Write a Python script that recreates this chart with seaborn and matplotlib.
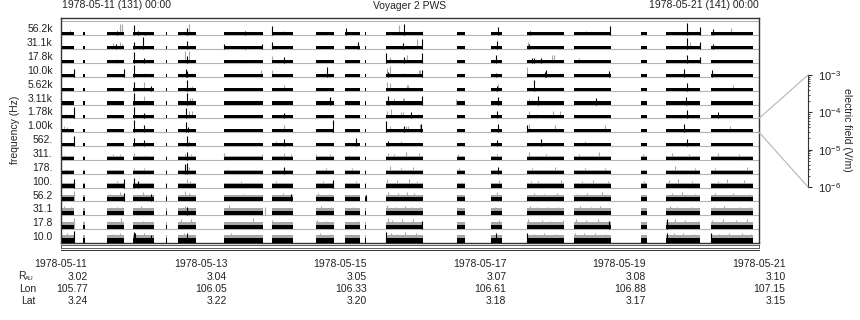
import matplotlib
matplotlib.use('Agg')
import matplotlib.pyplot as plt
from matplotlib.patches import ConnectionPatch
import seaborn as sns

sns.set_style('white')
plt.rcParams['font.family'] = ['Liberation Sans', 'DejaVu Sans']
plt.rcParams['mathtext.default'] = 'regular'
plt.rcParams['text.color'] = '#222222'
plt.rcParams['ytick.color'] = '#222222'

## frequency channels, bottom to top
freq_labels = ['10.0', '17.8', '31.1', '56.2', '100.', '178.', '311.', '562.',
               '1.00k', '1.78k', '3.11k', '5.62k', '10.0k', '17.8k', '31.1k', '56.2k']

## data coverage, hours after 1978-05-11 00:00
seg_start = [0.3, 7.6, 15.8, 24.8, 36.0, 40.2, 56.1, 72.6, 87.7, 97.7, 104.5,
             111.8, 136.2, 147.9, 160.2, 176.4, 199.4, 208.0, 223.5]
seg_end = [4.5, 8.3, 21.7, 32.0, 36.6, 46.4, 69.5, 79.8, 93.9, 102.8, 105.0,
           124.5, 138.9, 151.7, 173.0, 189.1, 201.5, 219.7, 238.0]

## background level in each channel (fraction of 1e-6..1e-3 V/m, log)
black_level = [0.38, 0.33, 0.30, 0.30, 0.25, 0.22, 0.22, 0.22,
               0.22, 0.22, 0.22, 0.22, 0.22, 0.22, 0.22, 0.22]
gray_level = [0.56, 0.52, 0.50, 0.46, 0.36, 0.30, 0.28, 0.22,
              0.22, 0.22, 0.22, 0.22, 0.22, 0.22, 0.22, 0.22]

## bursts: (channel, hour, level, shade)
spikes = [
    ('56.2k', 3.1, .35, 'g'), ('56.2k', 19.3, .3, 'k'), ('56.2k', 20.3, .8, 'g'), ('56.2k', 21.0, .8, 'g'),
    ('56.2k', 25.1, .75, 'k'), ('56.2k', 26.5, .3, 'k'), ('56.2k', 28.9, .25, 'k'), ('56.2k', 43.3, .55, 'k'),
    ('56.2k', 44.0, .85, 'g'), ('56.2k', 63.3, .3, 'k'), ('56.2k', 72.6, .7, 'k'), ('56.2k', 76.7, .3, 'g'),
    ('56.2k', 98.0, .5, 'k'), ('56.2k', 116.2, .75, 'g'), ('56.2k', 117.9, .8, 'k'), ('56.2k', 124.1, .3, 'g'),
    ('56.2k', 150.3, .6, 'k'), ('56.2k', 161.3, .3, 'k'), ('56.2k', 180.5, .3, 'g'), ('56.2k', 188.8, .7, 'k'),
    ('56.2k', 215.3, .9, 'k'), ('56.2k', 219.7, .6, 'k'), ('56.2k', 224.2, .45, 'k'), ('56.2k', 230.4, .5, 'g'),
    ('31.1k', 17.9, .45, 'g'), ('31.1k', 18.9, .4, 'k'), ('31.1k', 20.3, .5, 'g'), ('31.1k', 21.0, .4, 'g'),
    ('31.1k', 25.1, .55, 'k'), ('31.1k', 28.2, .85, 'k'), ('31.1k', 43.3, .6, 'k'), ('31.1k', 56.1, .35, 'k'),
    ('31.1k', 63.3, .25, 'k'), ('31.1k', 69.1, .4, 'k'), ('31.1k', 72.6, .55, 'k'), ('31.1k', 102.1, .5, 'k'),
    ('31.1k', 117.6, .45, 'k'), ('31.1k', 122.4, .75, 'g'), ('31.1k', 124.1, .75, 'k'), ('31.1k', 149.9, .6, 'k'),
    ('31.1k', 160.6, .5, 'g'), ('31.1k', 160.9, .35, 'k'), ('31.1k', 215.3, .8, 'k'), ('31.1k', 216.3, .5, 'g'),
    ('31.1k', 219.7, .5, 'k'), ('31.1k', 224.2, .4, 'k'),
    ('17.8k', 19.3, .3, 'g'), ('17.8k', 25.1, .8, 'k'), ('17.8k', 28.5, .35, 'k'), ('17.8k', 42.6, .85, 'g'),
    ('17.8k', 43.3, .5, 'k'), ('17.8k', 44.0, .85, 'g'), ('17.8k', 63.3, .2, 'g'), ('17.8k', 72.6, .5, 'g'),
    ('17.8k', 76.7, .4, 'k'), ('17.8k', 111.8, .75, 'k'), ('17.8k', 113.1, .45, 'g'), ('17.8k', 117.9, .4, 'k'),
    ('17.8k', 119.0, .55, 'g'), ('17.8k', 124.1, .7, 'k'), ('17.8k', 149.6, .55, 'k'), ('17.8k', 162.0, .35, 'k'),
    ('17.8k', 162.7, .35, 'k'), ('17.8k', 165.1, .35, 'k'), ('17.8k', 168.8, .6, 'g'), ('17.8k', 169.5, .55, 'g'),
    ('17.8k', 178.0, .35, 'g'), ('17.8k', 215.3, .6, 'k'), ('17.8k', 219.7, .4, 'k'),
    ('10.0k', 4.5, .6, 'k'), ('10.0k', 21.7, .55, 'k'), ('10.0k', 25.1, .85, 'k'), ('10.0k', 28.9, .3, 'g'),
    ('10.0k', 43.0, .6, 'k'), ('10.0k', 43.3, .45, 'k'), ('10.0k', 45.0, .3, 'g'), ('10.0k', 68.8, .5, 'g'),
    ('10.0k', 72.6, .5, 'g'), ('10.0k', 91.5, .7, 'k'), ('10.0k', 112.1, .65, 'g'), ('10.0k', 112.4, .35, 'k'),
    ('10.0k', 113.1, .75, 'g'), ('10.0k', 117.9, .3, 'g'), ('10.0k', 123.1, .5, 'g'), ('10.0k', 123.5, .5, 'g'),
    ('10.0k', 124.1, .5, 'k'), ('10.0k', 149.6, .3, 'k'), ('10.0k', 160.2, .7, 'g'), ('10.0k', 166.4, .35, 'k'),
    ('10.0k', 166.8, .5, 'k'), ('10.0k', 171.6, .3, 'g'), ('10.0k', 188.5, .4, 'k'), ('10.0k', 214.3, .55, 'k'),
    ('10.0k', 224.0, .5, 'k'),
    ('5.62k', 25.1, .6, 'k'), ('5.62k', 28.5, .65, 'g'), ('5.62k', 30.9, .35, 'k'), ('5.62k', 43.3, .75, 'k'),
    ('5.62k', 44.4, .3, 'g'), ('5.62k', 45.0, .35, 'g'), ('5.62k', 76.7, .4, 'g'), ('5.62k', 112.1, .65, 'g'),
    ('5.62k', 113.1, .55, 'g'), ('5.62k', 119.0, .4, 'g'), ('5.62k', 119.3, .4, 'g'), ('5.62k', 149.9, .35, 'k'),
    ('5.62k', 150.3, .5, 'g'), ('5.62k', 162.7, .8, 'k'), ('5.62k', 171.9, .3, 'g'), ('5.62k', 215.3, .55, 'k'),
    ('5.62k', 231.0, .4, 'g'),
    ('3.11k', 25.1, .85, 'k'), ('3.11k', 28.5, .65, 'g'), ('3.11k', 43.3, .85, 'k'), ('3.11k', 44.3, .45, 'g'),
    ('3.11k', 45.0, .45, 'g'), ('3.11k', 92.5, .55, 'k'), ('3.11k', 112.4, .65, 'k'), ('3.11k', 114.5, .5, 'g'),
    ('3.11k', 117.6, .45, 'g'), ('3.11k', 117.9, .45, 'g'), ('3.11k', 124.1, .6, 'k'), ('3.11k', 135.8, .4, 'g'),
    ('3.11k', 150.3, .55, 'k'), ('3.11k', 160.9, .4, 'g'), ('3.11k', 162.0, .35, 'g'), ('3.11k', 164.0, .6, 'k'),
    ('3.11k', 184.0, .45, 'k'), ('3.11k', 215.0, .55, 'k'),
    ('1.78k', 1.7, .35, 'g'), ('1.78k', 3.1, .35, 'g'), ('1.78k', 4.5, .85, 'k'), ('1.78k', 25.1, .8, 'k'),
    ('1.78k', 28.5, .4, 'k'), ('1.78k', 43.0, .75, 'k'), ('1.78k', 44.0, .5, 'g'), ('1.78k', 45.0, .5, 'g'),
    ('1.78k', 76.7, .4, 'k'), ('1.78k', 112.1, .55, 'g'), ('1.78k', 113.5, .65, 'g'), ('1.78k', 116.9, .45, 'g'),
    ('1.78k', 117.6, .45, 'g'), ('1.78k', 120.4, .45, 'k'), ('1.78k', 122.8, .3, 'g'), ('1.78k', 136.2, .35, 'g'),
    ('1.78k', 149.9, .5, 'k'), ('1.78k', 160.9, .5, 'g'), ('1.78k', 163.7, .35, 'g'), ('1.78k', 169.2, .55, 'g'),
    ('1.78k', 171.6, .5, 'g'), ('1.78k', 215.3, .6, 'k'), ('1.78k', 226.0, .45, 'k'),
    ('1.00k', 1.0, .45, 'g'), ('1.00k', 2.0, .35, 'g'), ('1.00k', 25.1, .9, 'k'), ('1.00k', 28.5, .55, 'k'),
    ('1.00k', 43.0, .75, 'k'), ('1.00k', 43.6, .4, 'k'), ('1.00k', 76.7, .55, 'g'), ('1.00k', 93.5, .85, 'k'),
    ('1.00k', 111.8, .8, 'k'), ('1.00k', 113.1, .45, 'g'), ('1.00k', 117.9, .45, 'k'), ('1.00k', 118.6, .45, 'g'),
    ('1.00k', 119.3, .45, 'g'), ('1.00k', 123.5, .6, 'g'), ('1.00k', 123.8, .6, 'k'), ('1.00k', 150.3, .6, 'k'),
    ('1.00k', 160.2, .55, 'k'), ('1.00k', 160.9, .6, 'g'), ('1.00k', 169.9, .55, 'g'), ('1.00k', 187.0, .5, 'g'),
    ('1.00k', 214.3, .6, 'k'), ('1.00k', 230.0, .45, 'g'),
    ('562.', 3.1, .25, 'g'), ('562.', 4.5, .7, 'k'), ('562.', 25.1, .55, 'k'), ('562.', 28.5, .45, 'k'),
    ('562.', 43.3, .7, 'k'), ('562.', 44.0, .35, 'g'), ('562.', 73.9, .35, 'g'), ('562.', 76.7, .5, 'k'),
    ('562.', 101.4, .6, 'k'), ('562.', 112.4, .4, 'k'), ('562.', 117.0, .4, 'g'), ('562.', 150.0, .45, 'k'),
    ('562.', 165.0, .5, 'k'), ('562.', 180.0, .4, 'g'), ('562.', 215.3, .5, 'k'),
    ('311.', 1.0, .35, 'g'), ('311.', 17.9, .4, 'g'), ('311.', 20.3, .45, 'g'), ('311.', 25.1, .5, 'g'),
    ('311.', 28.9, .35, 'g'), ('311.', 42.6, .45, 'g'), ('311.', 43.3, .6, 'k'), ('311.', 44.6, .4, 'g'),
    ('311.', 56.1, .5, 'g'), ('311.', 69.0, .4, 'g'), ('311.', 76.7, .5, 'g'), ('311.', 79.0, .4, 'g'),
    ('311.', 87.7, .4, 'g'), ('311.', 92.5, .45, 'g'), ('311.', 99.0, .35, 'g'), ('311.', 112.4, .5, 'g'),
    ('311.', 114.5, .45, 'g'), ('311.', 118.6, .55, 'g'), ('311.', 123.1, .5, 'g'), ('311.', 136.5, .4, 'g'),
    ('311.', 150.0, .45, 'g'), ('311.', 161.0, .55, 'g'), ('311.', 166.8, .4, 'g'), ('311.', 178.0, .4, 'g'),
    ('311.', 185.0, .55, 'g'), ('311.', 200.0, .4, 'g'), ('311.', 210.0, .5, 'g'), ('311.', 216.0, .4, 'g'),
    ('311.', 226.0, .5, 'g'), ('311.', 233.0, .45, 'g'),
    ('178.', 1.7, .35, 'g'), ('178.', 25.0, .45, 'g'), ('178.', 28.5, .4, 'g'), ('178.', 42.6, .7, 'k'),
    ('178.', 43.3, .75, 'k'), ('178.', 44.0, .5, 'g'), ('178.', 57.0, .35, 'g'), ('178.', 76.7, .5, 'k'),
    ('178.', 91.0, .4, 'g'), ('178.', 100.0, .4, 'g'), ('178.', 113.0, .55, 'g'), ('178.', 117.0, .45, 'g'),
    ('178.', 121.0, .5, 'g'), ('178.', 137.0, .4, 'g'), ('178.', 150.3, .5, 'k'), ('178.', 162.0, .45, 'g'),
    ('178.', 170.0, .5, 'g'), ('178.', 180.0, .4, 'g'), ('178.', 187.0, .45, 'g'), ('178.', 211.0, .55, 'g'),
    ('178.', 218.0, .4, 'g'), ('178.', 225.0, .45, 'g'), ('178.', 236.0, .5, 'g'),
    ('100.', 4.5, .65, 'k'), ('100.', 19.3, .45, 'g'), ('100.', 21.7, .6, 'k'), ('100.', 25.1, .7, 'k'),
    ('100.', 26.5, .45, 'k'), ('100.', 43.3, .6, 'g'), ('100.', 44.3, .5, 'g'), ('100.', 62.0, .45, 'g'),
    ('100.', 73.9, .45, 'g'), ('100.', 90.0, .5, 'g'), ('100.', 93.5, .55, 'k'), ('100.', 101.5, .45, 'g'),
    ('100.', 112.0, .6, 'g'), ('100.', 115.5, .55, 'g'), ('100.', 119.5, .6, 'g'), ('100.', 122.5, .45, 'g'),
    ('100.', 137.5, .4, 'g'), ('100.', 150.6, .55, 'g'), ('100.', 161.5, .5, 'g'), ('100.', 164.0, .45, 'g'),
    ('100.', 172.0, .55, 'g'), ('100.', 179.0, .5, 'g'), ('100.', 183.0, .55, 'g'), ('100.', 188.0, .5, 'g'),
    ('100.', 200.5, .45, 'g'), ('100.', 209.0, .55, 'g'), ('100.', 212.0, .6, 'g'), ('100.', 217.0, .45, 'g'),
    ('100.', 226.0, .5, 'g'), ('100.', 229.0, .6, 'g'), ('100.', 235.0, .55, 'g'),
    ('56.2', 4.5, .75, 'g'), ('56.2', 17.0, .55, 'g'), ('56.2', 20.3, .65, 'g'), ('56.2', 21.7, .6, 'k'),
    ('56.2', 28.2, .7, 'g'), ('56.2', 31.0, .55, 'k'), ('56.2', 42.6, .75, 'g'), ('56.2', 44.0, .6, 'g'),
    ('56.2', 63.0, .55, 'g'), ('56.2', 76.5, .6, 'g'), ('56.2', 79.2, .55, 'k'), ('56.2', 88.5, .6, 'g'),
    ('56.2', 92.0, .55, 'g'), ('56.2', 99.5, .5, 'g'), ('56.2', 104.7, .45, 'k'), ('56.2', 112.6, .65, 'g'),
    ('56.2', 116.0, .6, 'g'), ('56.2', 118.9, .7, 'g'), ('56.2', 121.5, .6, 'g'), ('56.2', 137.0, .5, 'g'),
    ('56.2', 150.0, .65, 'g'), ('56.2', 162.5, .6, 'g'), ('56.2', 166.0, .55, 'g'), ('56.2', 170.5, .6, 'g'),
    ('56.2', 177.5, .55, 'g'), ('56.2', 181.0, .6, 'g'), ('56.2', 186.0, .65, 'g'), ('56.2', 200.0, .5, 'g'),
    ('56.2', 210.0, .6, 'g'), ('56.2', 213.5, .65, 'g'), ('56.2', 218.0, .55, 'g'), ('56.2', 225.0, .6, 'g'),
    ('56.2', 231.0, .6, 'g'), ('56.2', 236.5, .55, 'g'),
    ('31.1', 1.2, .65, 'g'), ('31.1', 3.6, .6, 'g'), ('31.1', 19.3, .6, 'g'), ('31.1', 27.4, .65, 'g'),
    ('31.1', 42.6, .7, 'g'), ('31.1', 43.3, .6, 'k'), ('31.1', 57.9, .75, 'g'), ('31.1', 70.3, .6, 'g'),
    ('31.1', 89.5, .65, 'g'), ('31.1', 93.0, .6, 'g'), ('31.1', 98.5, .55, 'g'), ('31.1', 100.5, .6, 'g'),
    ('31.1', 112.2, .75, 'g'), ('31.1', 114.8, .6, 'g'), ('31.1', 118.2, .65, 'g'), ('31.1', 120.6, .6, 'g'),
    ('31.1', 123.6, .6, 'g'), ('31.1', 137.8, .55, 'g'), ('31.1', 149.2, .6, 'g'), ('31.1', 161.4, .65, 'g'),
    ('31.1', 163.5, .6, 'g'), ('31.1', 167.5, .6, 'g'), ('31.1', 171.0, .6, 'g'), ('31.1', 178.5, .65, 'g'),
    ('31.1', 182.4, .6, 'g'), ('31.1', 185.5, .7, 'g'), ('31.1', 199.9, .55, 'g'), ('31.1', 209.5, .65, 'g'),
    ('31.1', 211.8, .6, 'g'), ('31.1', 216.8, .6, 'g'), ('31.1', 224.5, .6, 'g'), ('31.1', 228.0, .65, 'g'),
    ('31.1', 233.5, .6, 'g'), ('31.1', 237.0, .6, 'g'),
    ('17.8', 4.5, .8, 'g'), ('17.8', 16.5, .6, 'g'), ('17.8', 20.7, .8, 'g'), ('17.8', 28.2, .6, 'g'),
    ('17.8', 41.3, .7, 'g'), ('17.8', 44.6, .75, 'g'), ('17.8', 66.0, .8, 'g'), ('17.8', 72.6, .65, 'g'),
    ('17.8', 88.0, .65, 'g'), ('17.8', 91.0, .6, 'g'), ('17.8', 98.0, .55, 'g'), ('17.8', 102.0, .6, 'g'),
    ('17.8', 112.4, .8, 'g'), ('17.8', 113.8, .65, 'g'), ('17.8', 117.2, .75, 'g'), ('17.8', 121.0, .7, 'g'),
    ('17.8', 124.0, .6, 'k'), ('17.8', 136.8, .55, 'g'), ('17.8', 150.5, .65, 'g'), ('17.8', 160.5, .75, 'g'),
    ('17.8', 165.5, .65, 'g'), ('17.8', 168.0, .6, 'g'), ('17.8', 172.5, .65, 'g'), ('17.8', 177.0, .7, 'g'),
    ('17.8', 180.5, .65, 'g'), ('17.8', 184.5, .75, 'g'), ('17.8', 188.5, .6, 'k'), ('17.8', 200.8, .55, 'g'),
    ('17.8', 208.5, .7, 'k'), ('17.8', 211.0, .7, 'g'), ('17.8', 214.5, .65, 'g'), ('17.8', 219.0, .6, 'g'),
    ('17.8', 223.8, .65, 'g'), ('17.8', 227.5, .75, 'g'), ('17.8', 232.0, .65, 'g'), ('17.8', 236.0, .7, 'g'),
    ('10.0', 2.0, .7, 'g'), ('10.0', 4.5, .85, 'k'), ('10.0', 17.9, .65, 'g'), ('10.0', 20.3, .7, 'g'),
    ('10.0', 25.1, .8, 'k'), ('10.0', 25.5, .7, 'k'), ('10.0', 28.5, .7, 'g'), ('10.0', 30.9, .6, 'k'),
    ('10.0', 42.3, .7, 'g'), ('10.0', 43.3, .7, 'k'), ('10.0', 58.6, .7, 'g'), ('10.0', 89.0, .7, 'g'),
    ('10.0', 92.8, .65, 'g'), ('10.0', 99.0, .6, 'g'), ('10.0', 101.8, .6, 'g'), ('10.0', 111.9, .8, 'k'),
    ('10.0', 113.3, .75, 'g'), ('10.0', 115.6, .65, 'g'), ('10.0', 118.4, .8, 'g'), ('10.0', 122.0, .7, 'g'),
    ('10.0', 136.4, .6, 'g'), ('10.0', 149.5, .7, 'k'), ('10.0', 160.4, .75, 'k'), ('10.0', 162.8, .65, 'g'),
    ('10.0', 166.2, .7, 'g'), ('10.0', 169.8, .65, 'g'), ('10.0', 176.6, .75, 'g'), ('10.0', 179.8, .7, 'g'),
    ('10.0', 183.6, .75, 'g'), ('10.0', 187.2, .65, 'g'), ('10.0', 199.6, .6, 'g'), ('10.0', 208.2, .7, 'k'),
    ('10.0', 210.8, .7, 'g'), ('10.0', 213.8, .75, 'g'), ('10.0', 217.6, .65, 'g'), ('10.0', 223.6, .7, 'k'),
    ('10.0', 226.2, .65, 'g'), ('10.0', 229.6, .7, 'g'), ('10.0', 234.2, .75, 'g'), ('10.0', 237.4, .65, 'g'),
]

## time axis and ephemeris
tick_hours = [0, 48, 96, 144, 192, 240]
tick_dates = ['1978-05-11', '1978-05-13', '1978-05-15', '1978-05-17', '1978-05-19', '1978-05-21']
r_au = ['3.02', '3.04', '3.05', '3.07', '3.08', '3.10']
lon = ['105.77', '106.05', '106.33', '106.61', '106.88', '107.15']
lat = ['3.24', '3.22', '3.20', '3.18', '3.17', '3.15']

field_ticks = [1e-6, 1e-5, 1e-4, 1e-3]
field_labels = ['$10^{-6}$', '$10^{-5}$', '$10^{-4}$', '$10^{-3}$']

GRAY = '#a6a6a6'
LINE = '#b4b4b4'
W, H = 860, 320
FS = 7.5


def box(x0, y0, x1, y1):
    return [x0 / W, 1 - y1 / H, (x1 - x0) / W, (y1 - y0) / H]


def fx(x):
    return x / W


def fy(y):
    return 1 - y / H


fig = plt.figure(figsize=(8.6, 3.2), dpi=100)

## main stack plot
ax = fig.add_axes(box(61, 18, 759, 243))
nrow = len(freq_labels)
ax.set_xlim(0, 240)
ax.set_ylim(0, nrow + 0.25)
ax.hlines(range(1, nrow + 1), 0, 240, color=LINE, lw=0.8, zorder=0)
segs = [(s, e - s) for s, e in zip(seg_start, seg_end)]
for k in range(nrow):
    if gray_level[k] > black_level[k]:
        ax.broken_barh(segs, (k, gray_level[k]), facecolors=GRAY, lw=0, zorder=1)
    ax.broken_barh(segs, (k, black_level[k]), facecolors='black', lw=0, zorder=3)

for shade in ['g', 'k']:
    xs = [h for c, h, v, s in spikes if s == shade]
    y0 = [freq_labels.index(c) for c, h, v, s in spikes if s == shade]
    y1 = [freq_labels.index(c) + v for c, h, v, s in spikes if s == shade]
    ax.vlines(xs, y0, y1, colors=GRAY if shade == 'g' else 'black',
              lw=0.8, zorder=2 if shade == 'g' else 4)

ax.set_xticks([])
ax.set_yticks(range(0, nrow + 1))
ax.set_yticklabels([])
ax.tick_params(axis='y', which='major', length=5.8, width=0.8, color='#333333', direction='out')
ax.set_yticks([k + 0.5 for k in range(nrow)], minor=True)
ax.set_yticklabels(freq_labels, minor=True, fontsize=FS)
ax.tick_params(axis='y', which='minor', length=0, pad=6)
for sp in ax.spines.values():
    sp.set_color('#333333')
    sp.set_linewidth(1.0)
ax.grid(False)

## coverage strip
ax_s = fig.add_axes(box(61, 244.6, 759, 247.6))
ax_s.set_xlim(0, 240)
ax_s.set_xticks([])
ax_s.set_yticks([])
for sp in ax_s.spines.values():
    sp.set_color('#444444')
    sp.set_linewidth(0.6)

## time axis
ax_t = fig.add_axes(box(61, 249.0, 759, 249.6))
ax_t.set_xlim(0, 240)
ax_t.set_yticks([])
ax_t.patch.set_alpha(0)
sns.despine(ax=ax_t, left=True, top=True, right=True, bottom=False)
ax_t.spines['bottom'].set_color('#333333')
ax_t.spines['bottom'].set_linewidth(0.7)
ax_t.set_xticks(tick_hours)
ax_t.set_xticks([24, 72, 120, 168, 216], minor=True)
ax_t.set_xticklabels([])
ax_t.tick_params(axis='x', which='major', length=4.3, width=0.8, color='#333333', direction='out')
ax_t.tick_params(axis='x', which='minor', length=2.4, width=0.8, color='#333333', direction='out')

for h, d, r, lo, la in zip(tick_hours, tick_dates, r_au, lon, lat):
    xc = 61 + h * 698 / 240
    fig.text(fx(xc), fy(264), d, ha='center', va='center', fontsize=FS)
    fig.text(fx(xc + 26.5), fy(276.5), r, ha='right', va='center', fontsize=FS)
    fig.text(fx(xc + 26.5), fy(288.5), lo, ha='right', va='center', fontsize=FS)
    fig.text(fx(xc + 26.5), fy(300.5), la, ha='right', va='center', fontsize=FS)
fig.text(fx(18), fy(276), 'R', ha='left', va='center', fontsize=FS)
fig.text(fx(24.5), fy(279), 'AU', ha='left', va='center', fontsize=4.5)
fig.text(fx(36), fy(288.5), 'Lon', ha='right', va='center', fontsize=FS)
fig.text(fx(36), fy(300.5), 'Lat', ha='right', va='center', fontsize=FS)

## header
fig.text(fx(62), fy(5), '1978-05-11 (131) 00:00', ha='left', va='center', fontsize=FS)
fig.text(fx(410), fy(6), 'Voyager 2 PWS', ha='center', va='center', fontsize=FS)
fig.text(fx(759), fy(5), '1978-05-21 (141) 00:00', ha='right', va='center', fontsize=FS)
fig.text(fx(15), fy(130), 'frequency (Hz)', rotation=90, ha='center', va='center', fontsize=FS)

## electric field scale
ax_e = fig.add_axes(box(807, 75, 808, 187))
ax_e.set_yscale('log')
ax_e.set_ylim(1e-6, 1e-3)
ax_e.set_xticks([])
ax_e.patch.set_alpha(0)
sns.despine(ax=ax_e, left=True, top=True, bottom=True, right=False)
ax_e.spines['right'].set_color('#333333')
ax_e.spines['right'].set_linewidth(0.8)
ax_e.yaxis.tick_right()
ax_e.set_yticks(field_ticks)
ax_e.set_yticklabels(field_labels, fontsize=FS + 0.5)
ax_e.tick_params(axis='y', which='major', length=3, width=0.8, color='#333333', pad=4)
ax_e.tick_params(axis='y', which='minor', length=1.6, width=0.6, color='#333333')
fig.text(fx(847), fy(130), 'electric field (V/m)', rotation=270, ha='center', va='center', fontsize=FS)

for ya, yb in [(9, 1), (8, 0)]:
    con = ConnectionPatch(xyA=(240, ya), coordsA=ax.transData, xyB=(1, yb), coordsB=ax_e.transAxes,
                          color=LINE, lw=0.8)
    fig.add_artist(con)

fig.savefig('out.png', dpi=100)
